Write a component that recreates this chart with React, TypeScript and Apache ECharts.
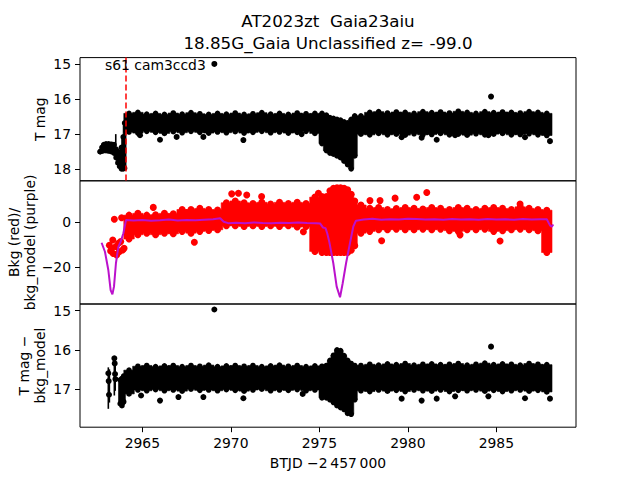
import React, { useEffect, useRef } from "react";
import * as echarts from "echarts";

// ---------- x / tick values ----------
const xTicks = [2965, 2970, 2975, 2980, 2985];
const yTicksTop = [15, 16, 17, 18];
const yTicksMid = [-20, 0];
const yTicksBot = [15, 16, 17];

// ---------- time bins (BTJD - 2457000) ----------
const band1T = [2964.25, 2964.75, 2965.25, 2965.75, 2966.25, 2966.75, 2967.25, 2967.75, 2968.25, 2968.75, 2969.25, 2969.75, 2970.25, 2970.75, 2971.25, 2971.75, 2972.25, 2972.75, 2973.25, 2973.75, 2974.25, 2974.75];
const dipT = [2975.15, 2975.4, 2975.6, 2975.8, 2976.0, 2976.2, 2976.4, 2976.6, 2976.8, 2977.0];
const band2T = [2977.35, 2977.85, 2978.35, 2978.85, 2979.35, 2979.85, 2980.35, 2980.85, 2981.35, 2981.85, 2982.35, 2982.85, 2983.35, 2983.85, 2984.35, 2984.85, 2985.35, 2985.85, 2986.35, 2986.85, 2987.35, 2987.85];

// ---------- top panel: T mag (bright edge / faint edge of the dense band) ----------
const tmagEarlyT = [2962.62, 2962.72, 2962.82, 2962.95, 2963.1, 2963.25, 2963.4, 2963.52, 2963.62, 2963.72, 2963.82, 2963.92, 2964.0];
const tmagEarlyHi = [17.45, 17.3, 17.22, 17.2, 17.2, 17.21, 17.22, 17.35, 17.42, 17.45, 17.3, 17.0, 16.6];
const tmagEarlyLo = [17.55, 17.56, 17.55, 17.55, 17.56, 17.58, 17.62, 17.75, 17.9, 18.0, 18.07, 18.07, 18.05];
const tmagB1Hi = [16.33, 16.3, 16.35, 16.33, 16.36, 16.32, 16.35, 16.31, 16.34, 16.36, 16.33, 16.35, 16.32, 16.36, 16.34, 16.31, 16.35, 16.33, 16.36, 16.32, 16.34, 16.33];
const tmagB1Lo = [17.02, 17.05, 17.0, 17.03, 17.06, 17.01, 17.04, 17.0, 17.03, 17.05, 17.02, 17.04, 17.01, 17.05, 17.03, 17.0, 17.04, 17.02, 17.05, 17.03, 17.0, 17.06];
const tmagDipHi = [16.33, 16.38, 16.45, 16.47, 16.5, 16.52, 16.57, 16.6, 16.5, 16.4];
const tmagDipLo = [17.35, 17.55, 17.62, 17.65, 17.7, 17.75, 17.85, 17.95, 18.07, 17.7];
const tmagB2Hi = [16.4, 16.3, 16.28, 16.32, 16.29, 16.3, 16.33, 16.28, 16.31, 16.29, 16.32, 16.27, 16.3, 16.33, 16.28, 16.31, 16.29, 16.3, 16.32, 16.28, 16.3, 16.33];
const tmagB2Lo = [17.08, 17.1, 17.06, 17.1, 17.08, 17.11, 17.07, 17.1, 17.09, 17.06, 17.1, 17.08, 17.11, 17.07, 17.1, 17.08, 17.06, 17.1, 17.09, 17.07, 17.1, 17.12];
const tmagPtT = [2964.87, 2966.0, 2966.94, 2968.45, 2970.71, 2974.0, 2979.65, 2980.78, 2981.63, 2982.67, 2984.55, 2986.62, 2988.03, 2969.07, 2984.7];
const tmagPtV = [17.03, 17.16, 17.08, 17.08, 17.17, 17.0, 17.09, 17.1, 17.16, 17.03, 17.03, 17.09, 17.2, 15.0, 15.93];
const tmagErrT = [2963.5];
const tmagErrHi = [17.0];
const tmagErrLo = [17.35];
const sectorStart = 2964.06;

// ---------- middle panel: background (red) and background model (purple) ----------
const bkgEarlyT = [2963.14, 2963.21, 2963.27, 2963.33, 2963.36, 2963.42, 2963.51, 2963.55, 2963.65, 2963.7, 2963.78, 2963.83, 2963.89, 2963.97];
const bkgEarlyV = [-10.2, -12.8, -11.7, -7.9, -13.9, 1.3, -10.8, -14.5, -9.3, -13.1, -8.6, 2.0, -12.3, -11.6];
const bkgB1Hi = [4.7, 5.5, 4.7, 4.9, 5.5, 5.3, 7.2, 7.2, 7.7, 7.2, 7.0, 10.2, 11.0, 10.2, 9.9, 10.4, 9.6, 10.4, 9.9, 10.4, 9.9, 12.7];
const bkgB1Lo = [-9.0, -7.1, -6.4, -7.1, -6.4, -6.7, -5.6, -6.4, -5.6, -5.2, -4.9, -3.1, -3.1, -3.4, -3.1, -3.4, -3.1, -3.4, -3.1, -3.7, -3.4, -14.5];
const bkgDipHi = [13.0, 13.0, 15.5, 16.6, 16.8, 16.8, 16.6, 16.0, 14.0, 11.0];
const bkgDipLo = [-15.0, -15.0, -15.0, -15.0, -15.0, -15.0, -15.0, -15.0, -14.0, -12.0];
const bkgB2Hi = [9.2, 7.7, 8.1, 7.2, 7.6, 8.1, 7.7, 7.4, 8.1, 7.7, 7.2, 8.1, 7.7, 7.2, 7.7, 8.1, 7.7, 7.2, 8.4, 7.7, 7.2, 6.9];
const bkgB2Lo = [-6.4, -5.6, -4.9, -4.9, -4.6, -4.9, -4.9, -4.6, -4.9, -4.6, -5.3, -5.6, -4.9, -4.9, -4.6, -5.6, -5.3, -4.9, -4.6, -4.9, -5.3, -15.0];
const bkgOutT = [2965.62, 2967.94, 2970.05, 2970.43, 2970.9, 2971.74, 2974.1, 2974.95, 2977.86, 2978.43, 2978.52, 2979.28, 2980.5, 2981.07, 2982.95, 2985.21, 2986.34];
const bkgOutV = [6.6, -8.9, 12.6, 12.9, 12.1, 11.4, -4.2, 12.9, 9.6, 9.6, -8.2, 10.7, 11.1, 13.2, -5.6, -8.3, 8.1];
const modelT = [2962.7, 2962.89, 2963.08, 2963.21, 2963.31, 2963.4, 2963.51, 2963.65, 2963.78, 2963.93, 2964.08, 2964.5, 2965.0, 2965.5, 2966.0, 2966.5, 2967.0, 2967.5, 2968.0, 2968.5, 2969.0, 2969.4, 2969.6, 2969.85, 2970.3, 2970.8, 2971.3, 2971.8, 2972.3, 2972.8, 2973.3, 2973.8, 2974.3, 2974.8, 2975.05, 2975.2, 2975.35, 2975.45, 2975.57, 2975.79, 2975.98, 2976.17, 2976.32, 2976.51, 2976.73, 2976.92, 2977.07, 2977.5, 2978.0, 2978.5, 2979.0, 2979.5, 2980.0, 2980.5, 2981.0, 2981.5, 2982.0, 2982.5, 2983.0, 2983.5, 2984.0, 2984.5, 2985.0, 2985.5, 2986.0, 2986.5, 2987.0, 2987.5, 2987.85, 2988.03, 2988.13, 2988.22];
const modelV = [-9.1, -13.1, -21.2, -30.1, -32.0, -28.6, -18.2, -10.8, -8.6, -4.9, 1.0, 0.8, 1.0, 0.7, 0.9, 1.2, 0.8, 1.0, 0.9, 1.1, 1.3, 1.8, 0.2, -0.4, -0.2, -0.4, -0.1, -0.3, -0.4, -0.2, -0.3, -0.1, -0.3, -0.4, -0.6, -2.3, -2.6, -5.0, -9.0, -18.2, -28.6, -33.3, -27.1, -18.2, -9.3, -1.9, 0.7, 1.2, 1.5, 1.1, 1.3, 1.2, 1.6, 1.4, 1.2, 1.3, 1.1, 1.4, 1.2, 1.3, 1.1, 1.4, 1.2, 1.3, 1.1, 1.4, 1.2, 1.3, 1.3, -1.4, -2.0, -1.0];

// ---------- bottom panel: T mag - bkg_model ----------
const corrEarlyT = [2963.75, 2963.85, 2963.95];
const corrEarlyHi = [16.7, 16.66, 16.6];
const corrEarlyLo = [17.45, 17.5, 17.4];
const corrB1Hi = [16.45, 16.35, 16.33, 16.36, 16.34, 16.33, 16.36, 16.33, 16.35, 16.32, 16.36, 16.34, 16.33, 16.35, 16.33, 16.36, 16.34, 16.32, 16.35, 16.33, 16.36, 16.34];
const corrB1Lo = [17.2, 17.1, 17.12, 17.09, 17.12, 17.1, 17.13, 17.08, 17.11, 17.1, 17.12, 17.09, 17.11, 17.13, 17.1, 17.08, 17.12, 17.1, 17.11, 17.09, 17.12, 17.1];
const corrDipHi = [16.35, 16.33, 16.2, 16.07, 15.93, 15.95, 16.08, 16.2, 16.28, 16.33];
const corrDipLo = [17.3, 17.3, 17.35, 17.42, 17.5, 17.55, 17.6, 17.7, 17.72, 17.35];
const corrB2Hi = [16.33, 16.3, 16.32, 16.29, 16.31, 16.28, 16.32, 16.3, 16.29, 16.31, 16.3, 16.28, 16.32, 16.3, 16.27, 16.31, 16.29, 16.3, 16.32, 16.28, 16.3, 16.31];
const corrB2Lo = [17.12, 17.14, 17.1, 17.13, 17.11, 17.14, 17.1, 17.12, 17.13, 17.1, 17.14, 17.11, 17.12, 17.1, 17.13, 17.11, 17.14, 17.12, 17.1, 17.13, 17.11, 17.15];
const corrPtT = [2963.08, 2963.1, 2963.12, 2963.42, 2963.44, 2963.46, 2963.48, 2963.89, 2964.93, 2966.0, 2967.04, 2968.45, 2970.71, 2974.06, 2979.65, 2980.78, 2981.63, 2982.67, 2984.55, 2986.62, 2988.03, 2969.07, 2984.7];
const corrPtV = [16.6, 16.8, 17.15, 16.22, 16.35, 16.62, 16.75, 17.35, 17.17, 17.3, 17.21, 17.21, 17.24, 17.13, 17.25, 17.3, 17.25, 17.19, 17.19, 17.24, 17.25, 14.97, 15.92];
const corrErrT = [2963.08, 2963.14, 2963.42, 2963.47];
const corrErrHi = [16.45, 16.5, 16.16, 16.3];
const corrErrLo = [17.51, 17.35, 17.17, 17.05];

const FONT = "DejaVu Sans";
const FS = 13.9;

function bandItems(t: number[], hi: number[], lo: number[]) {
  const n = t.length;
  return t.map((ti, i) => {
    const left = i > 0 ? (t[i - 1] + ti) / 2 : ti - (n > 1 ? (t[1] - t[0]) / 2 : 0.1);
    const right = i < n - 1 ? (ti + t[i + 1]) / 2 : ti + (n > 1 ? (t[n - 1] - t[n - 2]) / 2 : 0.1);
    return [ti, hi[i], lo[i], left, right];
  });
}

function bandRender(color: string, r: number) {
  return (params: any, api: any) => {
    const t = api.value(0), a = api.value(1), b = api.value(2), tl = api.value(3), tr = api.value(4);
    const pA = api.coord([tl, a]);
    const pB = api.coord([tr, b]);
    const x0 = Math.min(pA[0], pB[0]) - 0.8;
    const x1 = Math.max(pA[0], pB[0]) + 0.8;
    let yTop = Math.min(pA[1], pB[1]) + r;
    let yBot = Math.max(pA[1], pB[1]) - r;
    if (yBot < yTop) { const m = (yTop + yBot) / 2; yTop = m; yBot = m; }
    const cx = api.coord([t, a])[0];
    return {
      type: "group",
      children: [
        { type: "rect", shape: { x: x0, y: yTop, width: x1 - x0, height: yBot - yTop }, style: { fill: color, stroke: color, lineWidth: 0.6 } },
        { type: "circle", shape: { cx, cy: yTop, r }, style: { fill: color } },
        { type: "circle", shape: { cx, cy: yBot, r }, style: { fill: color } },
      ],
    };
  };
}

function errRender(color: string) {
  return (params: any, api: any) => {
    const p1 = api.coord([api.value(0), api.value(1)]);
    const p2 = api.coord([api.value(0), api.value(2)]);
    return { type: "line", shape: { x1: p1[0], y1: p1[1], x2: p2[0], y2: p2[1] }, style: { stroke: color, lineWidth: 1.6 } };
  };
}

const zip = (a: number[], b: number[]) => a.map((v, i) => [v, b[i]]);
const zip3 = (a: number[], b: number[], c: number[]) => a.map((v, i) => [v, b[i], c[i]]);
const minus = (v: number) => (v < 0 ? "\u2212" + Math.abs(v) : String(v));

export default function App() {
  const ref = useRef<HTMLDivElement>(null);
  useEffect(() => {
    if (!ref.current) return;
    const chart = echarts.init(ref.current, undefined, { renderer: "svg" });
    const grids = [57.6, 180.8, 304].map((top) => ({
      left: 80, top, width: 496, height: 123.2, show: true, borderColor: "#000", borderWidth: 1, backgroundColor: "transparent", containLabel: false,
    }));
    const xAxes = [0, 1, 2].map((i) => ({
      type: "value", gridIndex: i, min: 2961.48, max: 2989.5,
      axisLine: { show: false }, splitLine: { show: false },
      axisTick: { show: i === 2, customValues: xTicks, length: 5, inside: false, lineStyle: { color: "#000", width: 1 } },
      axisLabel: { show: i === 2, customValues: xTicks, margin: 9, color: "#000", fontSize: FS, fontFamily: FONT, formatter: (v: number) => String(v) },
    }));
    const yCommon = (gridIndex: number, min: number, max: number, inverse: boolean, ticks: number[]) => ({
      type: "value", gridIndex, min, max, inverse,
      axisLine: { show: false }, splitLine: { show: false },
      axisTick: { show: true, customValues: ticks, length: 5, inside: false, lineStyle: { color: "#000", width: 1 } },
      axisLabel: { show: true, customValues: ticks, margin: 9, color: "#000", fontSize: FS, fontFamily: FONT, formatter: (v: number) => minus(v) },
    });
    const yAxes = [
      yCommon(0, 14.82, 18.33, true, yTicksTop),
      yCommon(1, -36.3, 18.4, false, yTicksMid),
      yCommon(2, 14.83, 17.98, true, yTicksBot),
    ];
    const band = (i: number, data: any[], color: string, r: number, z = 2) => ({
      type: "custom", xAxisIndex: i, yAxisIndex: i, data, renderItem: bandRender(color, r), z, silent: true,
      encode: { x: 0, y: [1, 2] },
    });
    const pts = (i: number, data: any[], color: string, size: number, z = 3) => ({
      type: "scatter", xAxisIndex: i, yAxisIndex: i, data, symbol: "circle", symbolSize: size,
      itemStyle: { color, opacity: 1 }, z, silent: true,
    });
    const errs = (i: number, data: any[], color: string) => ({
      type: "custom", xAxisIndex: i, yAxisIndex: i, data, renderItem: errRender(color), z: 2, silent: true,
      encode: { x: 0, y: [1, 2] },
    });
    const BLACK = "#000000";
    const RED = "#ff0000";
    const rB = 2.8, rR = 3.5;

    const series: any[] = [
      // top
      band(0, bandItems(tmagEarlyT, tmagEarlyHi, tmagEarlyLo), BLACK, rB),
      band(0, bandItems(band1T, tmagB1Hi, tmagB1Lo), BLACK, rB),
      band(0, bandItems(dipT, tmagDipHi, tmagDipLo), BLACK, rB),
      band(0, bandItems(band2T, tmagB2Hi, tmagB2Lo), BLACK, rB),
      errs(0, zip3(tmagErrT, tmagErrHi, tmagErrLo), BLACK),
      pts(0, zip(tmagPtT, tmagPtV), BLACK, 6),
      {
        type: "line", xAxisIndex: 0, yAxisIndex: 0, data: [], z: 10, silent: true,
        markLine: {
          silent: true, symbol: "none", label: { show: false }, animation: false,
          lineStyle: { color: RED, type: [6, 3], width: 1.5 },
          data: [{ xAxis: sectorStart }],
        },
      },
      // middle
      pts(1, zip(bkgEarlyT, bkgEarlyV), RED, 7),
      band(1, bandItems(band1T, bkgB1Hi, bkgB1Lo), RED, rR),
      band(1, bandItems(dipT, bkgDipHi, bkgDipLo), RED, rR),
      band(1, bandItems(band2T, bkgB2Hi, bkgB2Lo), RED, rR),
      pts(1, zip(bkgOutT, bkgOutV), RED, 7),
      {
        type: "line", xAxisIndex: 1, yAxisIndex: 1, data: zip(modelT, modelV), showSymbol: false, symbol: "none",
        lineStyle: { color: "#bb11cc", width: 2 }, z: 5, silent: true,
      },
      // bottom
      band(2, bandItems(corrEarlyT, corrEarlyHi, corrEarlyLo), BLACK, rB),
      band(2, bandItems(band1T, corrB1Hi, corrB1Lo), BLACK, rB),
      band(2, bandItems(dipT, corrDipHi, corrDipLo), BLACK, rB),
      band(2, bandItems(band2T, corrB2Hi, corrB2Lo), BLACK, rB),
      errs(2, zip3(corrErrT, corrErrHi, corrErrLo), BLACK),
      pts(2, zip(corrPtT, corrPtV), BLACK, 6),
    ];

    const txt = (text: string, x: number, y: number, size: number, rot = 0, align = "center") => ({
      type: "text", x, y, rotation: rot, z: 20, silent: true,
      style: { text, fill: "#000", font: `${size}px "${FONT}"`, align, verticalAlign: "middle" },
    });

    chart.setOption({
      animation: false,
      textStyle: { fontFamily: FONT },
      grid: grids,
      xAxis: xAxes,
      yAxis: yAxes,
      series,
      graphic: [
        txt("AT2023zt  Gaia23aiu", 328, 21, 16.7),
        txt("18.85G_Gaia Unclassified z= -99.0", 328, 43, 16.7),
        txt("s61 cam3ccd3", 105, 65, FS, 0, "left"),
        txt("T mag", 40, 119.2, FS, Math.PI / 2),
        txt("Bkg (red)/", 13.5, 242.4, FS, Math.PI / 2),
        txt("bkg_model (purple)", 29.5, 242.4, FS, Math.PI / 2),
        txt("T mag \u2212", 23.5, 365.6, FS, Math.PI / 2),
        txt("bkg_model", 40, 365.6, FS, Math.PI / 2),
        txt("BTJD \u22122\u2009457\u2009000", 328, 463, FS),
      ],
    });
    return () => chart.dispose();
  }, []);
  return <div ref={ref} style={{ position: "absolute", left: 0, top: 0, width: 640, height: 480 }} />;
}
